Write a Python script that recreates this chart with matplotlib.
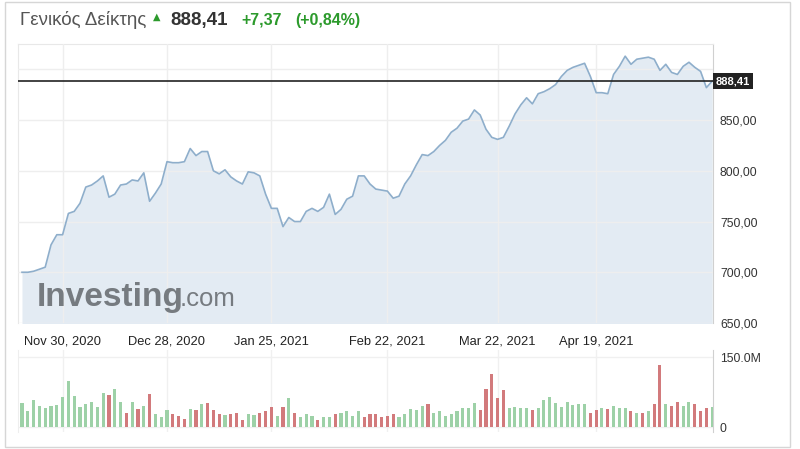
import numpy as np
import matplotlib.pyplot as plt
from matplotlib.patches import Rectangle
import matplotlib.transforms as mtransforms

plt.rcParams['font.family'] = ['Liberation Sans', 'DejaVu Sans']

# closing values of the index, one per trading day
price = [700, 700, 701, 703, 705, 727, 737, 737, 758, 760,
         768, 784, 786, 790, 795, 774, 777, 786, 787, 791,
         790, 798, 770, 778, 787, 809, 808, 808, 809, 822,
         815, 819, 819, 800, 797, 801, 794, 790, 787, 799,
         798, 795, 777, 763, 763, 745, 754, 750, 750, 760,
         763, 760, 764, 777, 757, 762, 772, 775, 795, 795,
         787, 782, 781, 780, 773, 775, 787, 795, 806, 816,
         815, 819, 825, 830, 838, 842, 849, 851, 860, 855,
         841, 833, 831, 833, 844, 856, 865, 872, 866, 876,
         878, 881, 885, 893, 899, 902, 904, 906, 893, 877,
         877, 876, 895, 903, 913, 905, 910, 911, 912, 910,
         899, 905, 897, 895, 903, 907, 902, 898, 882, 888.41]

# volume in millions, 1 = up day (green), 0 = down day (red)
volume = [51, 34, 59, 46, 41, 46, 48, 64, 98, 67,
          43, 49, 54, 43, 73, 69, 82, 54, 30, 54,
          39, 46, 72, 28, 23, 36, 28, 24, 17, 39,
          37, 49, 51, 37, 28, 26, 28, 30, 16, 28,
          26, 30, 34, 43, 25, 43, 62, 30, 21, 28,
          25, 16, 21, 23, 28, 30, 34, 24, 34, 23,
          28, 28, 23, 24, 28, 23, 28, 39, 37, 46,
          49, 31, 34, 25, 29, 34, 41, 41, 51, 36,
          81, 114, 62, 80, 41, 43, 41, 41, 36, 41,
          59, 64, 51, 44, 55, 48, 49, 49, 31, 36,
          41, 39, 46, 41, 41, 34, 31, 31, 34, 50,
          134, 49, 46, 53, 46, 55, 50, 34, 41, 43]
up = [1, 1, 1, 1, 1, 1, 1, 1, 1, 1,
      1, 1, 1, 1, 1, 0, 1, 1, 0, 1,
      0, 1, 0, 1, 1, 1, 0, 0, 0, 1,
      0, 1, 0, 0, 0, 1, 0, 0, 0, 1,
      1, 0, 0, 0, 1, 0, 1, 0, 1, 1,
      1, 0, 1, 1, 0, 1, 1, 1, 1, 0,
      0, 0, 0, 0, 0, 1, 1, 1, 1, 1,
      0, 1, 1, 1, 1, 1, 1, 1, 1, 0,
      0, 0, 0, 0, 1, 1, 1, 1, 0, 1,
      1, 1, 1, 1, 1, 1, 1, 1, 0, 0,
      1, 0, 1, 1, 1, 0, 1, 0, 1, 0,
      0, 1, 0, 0, 1, 1, 0, 0, 0, 1]

tick_idx = [7, 25, 43, 63, 82, 99]
tick_lbl = ['Nov 30, 2020', 'Dec 28, 2020', 'Jan 25, 2021',
            'Feb 22, 2021', 'Mar 22, 2021', 'Apr 19, 2021']
last = 888.41

x = np.arange(len(price))
W, H = 800, 449
fig = plt.figure(figsize=(W / 100, H / 100), dpi=100)

def box(l, t, r, b):
    return [l / W, 1 - b / H, (r - l) / W, (b - t) / H]

# outer frame
fig.patches.append(Rectangle((5 / W, 2 / H), 785 / W, 445 / H, transform=fig.transFigure,
                             fill=False, edgecolor='#d6d6d6', lw=1))

# price panel
ax = fig.add_axes(box(18, 44, 713, 323))
ax.fill_between(x, price, 600, color='#e3ebf3', lw=0, zorder=1)
ax.plot(x, price, color='#8eaecb', lw=1.2, zorder=3)
ax.axhline(last, color='#222222', lw=1.2, zorder=4)
ax.set_xlim(-0.69, 119.14)
ax.set_ylim(650, 925)
ax.yaxis.tick_right()
yt = [650, 700, 750, 800, 850, 900]
ax.set_yticks(yt)
ax.set_yticklabels([f'{v:.2f}'.replace('.', ',') if v != 900 else '' for v in yt],
                   fontsize=8.8, color='#333333')
ax.set_xticks(tick_idx)
ax.set_xticklabels(tick_lbl, fontsize=9.3, color='#222222')
ax.tick_params(length=0)
ax.tick_params(axis='y', pad=5)
ax.tick_params(axis='x', pad=9)
ax.grid(color='#eeeeee', lw=1, zorder=2)
ax.set_axisbelow(False)
for s in ax.spines.values():
    s.set_color('#e8e8e8')
ax.spines['right'].set_color('#d0d0d0')
ax.spines['bottom'].set_visible(False)

trans = mtransforms.blended_transform_factory(ax.transAxes, ax.transData)
ax.text(1.004, last, f'{last:.2f}'.replace('.', ','), transform=trans, ha='left', va='center',
        fontsize=8, color='white', fontweight='bold', zorder=6,
        bbox=dict(boxstyle='square,pad=0.25', facecolor='#222222', edgecolor='none'))

# watermark
ax.text(0.027, 0.06, 'Investing', transform=ax.transAxes, fontsize=24, fontweight='bold',
        color='#767b80', ha='left', va='baseline', zorder=5)
ax.text(0.232, 0.06, '.com', transform=ax.transAxes, fontsize=18.5,
        color='#767b80', ha='left', va='baseline', zorder=5)

# volume panel
vax = fig.add_axes(box(18, 350, 713, 432))
colors = ['#9dd1a7' if u else '#d27a7c' for u in up]
vax.bar(x, volume, width=0.52, color=colors, zorder=3)
vax.set_xlim(-0.69, 119.14)
vax.set_ylim(-10, 165)
vax.yaxis.tick_right()
vax.set_yticks([0, 150])
vax.set_yticklabels(['0', '150.0M'], fontsize=8.8, color='#333333')
vax.set_xticks(tick_idx)
vax.set_xticklabels([])
vax.tick_params(length=0)
vax.tick_params(axis='y', pad=5)
vax.grid(color='#f0f0f0', lw=1, zorder=0)
for s in vax.spines.values():
    s.set_visible(False)
vax.spines['right'].set_visible(True)
vax.spines['right'].set_color('#d0d0d0')
vax.spines['left'].set_visible(True)
vax.spines['left'].set_color('#eeeeee')

# header
fig.text(20 / W, 1 - 20 / H, 'Γενικός Δείκτης', fontsize=13.5, color='#555555', va='center')
fig.text(157 / W, 1 - 17 / H, '▲', fontsize=7, color='#2c9a2c', va='center', ha='center',
         family='DejaVu Sans')
fig.text(170 / W, 1 - 20 / H, '888,41', fontsize=13.5, color='#333333', fontweight='bold', va='center')
fig.text(241 / W, 1 - 20 / H, '+7,37', fontsize=11.5, color='#2c9a2c', fontweight='bold', va='center')
fig.text(295 / W, 1 - 20 / H, '(+0,84%)', fontsize=11.5, color='#2c9a2c', fontweight='bold', va='center')

fig.savefig('out.png', dpi=100)
